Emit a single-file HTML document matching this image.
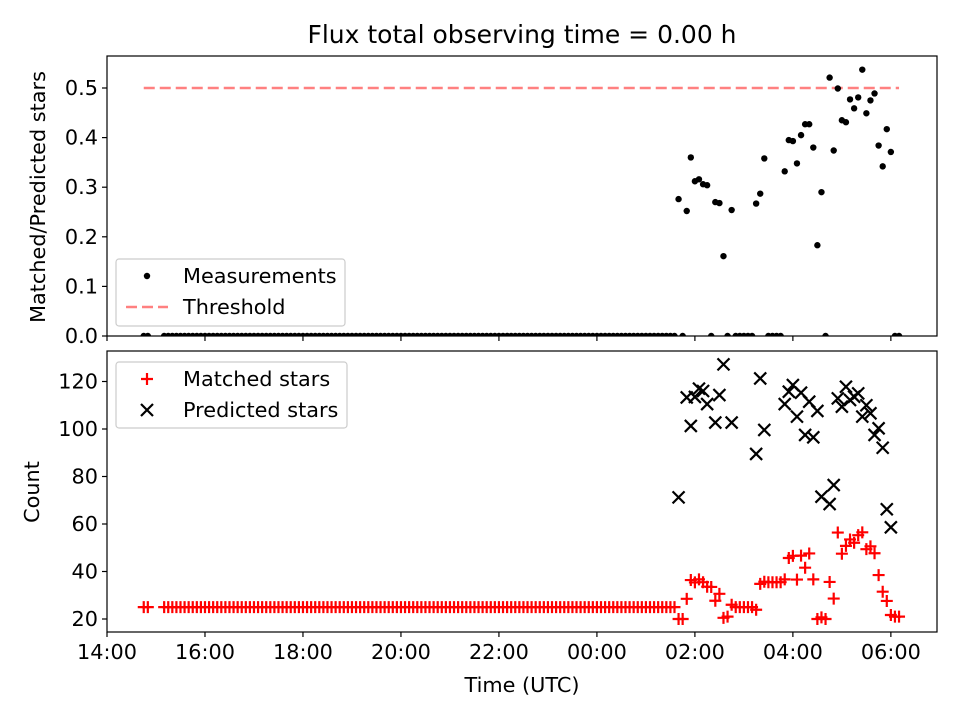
<!DOCTYPE html>
<html><head><meta charset="utf-8"><style>
html,body{margin:0;padding:0;background:#fff;}
svg{display:block;font-family:"DejaVu Sans","Liberation Sans",sans-serif;}
</style></head><body>
<svg id="chart" width="960" height="720" viewBox="0 0 960 720" xmlns="http://www.w3.org/2000/svg">
<defs>
<clipPath id="clipTop"><rect x="107" y="56" width="830" height="280"/></clipPath>
<clipPath id="clipBot"><rect x="107" y="351" width="830" height="281"/></clipPath>
</defs>
<rect width="960" height="720" fill="#fff"/>
<text x="522" y="43" font-size="25" text-anchor="middle">Flux total observing time = 0.00 h</text>
<g id="topPanel"></g>
<g id="botPanel"></g>
<text transform="translate(45,197) rotate(-90)" font-size="20.8" text-anchor="middle">Matched/Predicted stars</text>
<text transform="translate(39,492) rotate(-90)" font-size="20.8" text-anchor="middle">Count</text>
<text x="522" y="692" font-size="20.8" text-anchor="middle">Time (UTC)</text>
</svg>
<script>
// minutes since 14:00
const baseTimes=[45,50,70,75,80,85,90,95,100,105,110,115,120,125,130,135,140,145,150,155,160,165,170,175,180,185,190,195,200,205,210,215,220,225,230,235,240,245,250,255,260,265,270,275,280,285,290,295,300,305,310,315,320,325,330,335,340,345,350,355,360,365,370,375,380,385,390,395,400,405,410,415,420,425,430,435,440,445,450,455,460,465,470,475,480,485,490,495,500,505,510,515,520,525,530,535,540,545,550,555,560,565,570,575,580,585,590,595,600,605,610,615,620,625,630,635,640,645,650,655,660,665,670,675,680,685,690,695];
const baseRatio=[0,0,0,0,0,0,0,0,0,0,0,0,0,0,0,0,0,0,0,0,0,0,0,0,0,0,0,0,0,0,0,0,0,0,0,0,0,0,0,0,0,0,0,0,0,0,0,0,0,0,0,0,0,0,0,0,0,0,0,0,0,0,0,0,0,0,0,0,0,0,0,0,0,0,0,0,0,0,0,0,0,0,0,0,0,0,0,0,0,0,0,0,0,0,0,0,0,0,0,0,0,0,0,0,0,0,0,0,0,0,0,0,0,0,0,0,0,0,0,0,0,0,0,0,0,0,0,0];
const baseMatched=[25,25,25,25,25,25,25,25,25,25,25,25,25,25,25,25,25,25,25,25,25,25,25,25,25,25,25,25,25,25,25,25,25,25,25,25,25,25,25,25,25,25,25,25,25,25,25,25,25,25,25,25,25,25,25,25,25,25,25,25,25,25,25,25,25,25,25,25,25,25,25,25,25,25,25,25,25,25,25,25,25,25,25,25,25,25,25,25,25,25,25,25,25,25,25,25,25,25,25,25,25,25,25,25,25,25,25,25,25,25,25,25,25,25,25,25,25,25,25,25,25,25,25,25,25,25,25,25];
const actTimes=[700,705,710,715,720,725,730,735,740,745,750,755,760,765,770,775,780,785,790,795,800,805,810,815,820,825,830,835,840,845,850,855,860,865,870,875,880,885,890,895,900,905,910,915,920,925,930,935,940,945,950,955,960,965,970];
const actRatio=[0.276,0,0.252,0.36,0.312,0.316,0.306,0.304,0,0.27,0.268,0.161,0,0.254,0,0,0,0,0,0.267,0.287,0.358,0,0,0,0,0.332,0.395,0.393,0.348,0.405,0.427,0.427,0.38,0.183,0.29,0,0.521,0.374,0.499,0.435,0.431,0.477,0.459,0.481,0.537,0.449,0.475,0.489,0.384,0.342,0.417,0.371,0,0];
const actMatched=[20,20,28.5,36.4,35.4,36.7,35.5,33.6,33.5,27.7,30.6,20.5,21,26,25,25,25,25,25,23.9,34.8,35.7,35.5,35.5,35.5,35.5,36.7,45.7,46.6,36.6,46.7,41.6,47.6,36.7,20,20.7,20,35.6,28.6,56.4,47.5,50.8,53.5,52.1,55.3,56.5,49.4,50.6,47.7,38.5,31.5,27.6,21.7,21,21];
const actPredicted=[71.2,null,113.3,101.3,113.5,117,116,110.5,null,102.7,114.3,127.2,null,102.7,null,null,null,null,null,89.5,121.3,99.6,null,null,null,null,110.5,115.7,118.5,105.2,115.3,97.5,111.5,96.5,107.6,71.5,null,68.4,76.4,112.9,109.4,117.8,112.2,113.6,115,105.2,110,106.6,97.5,100.3,92.1,66.2,58.6,null,null];
const threshold=0.5;
const xTickMinutes=[0,120,240,360,480,600,720,840,960];
const xTickLabels=["14:00","16:00","18:00","20:00","22:00","00:00","02:00","04:00","06:00"];
const topTicks=[0,0.1,0.2,0.3,0.4,0.5];
const topTickLabels=["0.0","0.1","0.2","0.3","0.4","0.5"];
const botTicks=[20,40,60,80,100,120];
const botTickLabels=["20","40","60","80","100","120"];

const NS="http://www.w3.org/2000/svg";
const L=107,R=937,TT=56,TB=336,BT=351,BB=632;
function xs(m){return L+m/1016.5*(R-L);}
function yTop(v){return TB-v*496;}
function yBot(c){return 619-(c-20)*2.375;}
function mk(tag,attrs,parent){const e=document.createElementNS(NS,tag);for(const k in attrs)e.setAttribute(k,attrs[k]);parent.appendChild(e);return e;}
const topG=document.getElementById('topPanel'),botG=document.getElementById('botPanel');
const allTimes=baseTimes.concat(actTimes),allRatio=baseRatio.concat(actRatio),allMatched=baseMatched.concat(actMatched);
const allPredicted=baseTimes.map(()=>null).concat(actPredicted);

const tClip=mk('g',{'clip-path':'url(#clipTop)'},topG);
const tmin=Math.min(...allTimes),tmax=Math.max(...allTimes);
const th=mk('line',{x1:xs(tmin),x2:xs(tmax),y1:yTop(threshold),y2:yTop(threshold),stroke:'#ff8080','stroke-width':2.4,'stroke-dasharray':'11 5'},tClip);


for(let i=0;i<allTimes.length;i++){
  const c=mk('circle',{cx:xs(allTimes[i]),cy:yTop(allRatio[i]),r:3.2,fill:'#000'},tClip);
  
  
}
const bClip=mk('g',{'clip-path':'url(#clipBot)'},botG);
for(let i=0;i<allTimes.length;i++){
  const x=xs(allTimes[i]),y=yBot(allMatched[i]);
  const p=mk('path',{d:`M${x-6},${y}H${x+6}M${x},${y-6}V${y+6}`,stroke:'#ff0000','stroke-width':2.2,fill:'none'},bClip);
  
  
}
for(let i=0;i<allTimes.length;i++){
  if(allPredicted[i]===null)continue;
  const x=xs(allTimes[i]),y=yBot(allPredicted[i]);
  const p=mk('path',{d:`M${x-6},${y-6}L${x+6},${y+6}M${x-6},${y+6}L${x+6},${y-6}`,stroke:'#000','stroke-width':2.2,fill:'none'},bClip);
  
  
}
const f1=mk('rect',{x:L,y:TT,width:R-L,height:TB-TT,fill:'none',stroke:'#000','stroke-width':1.2},topG);


const f2=mk('rect',{x:L,y:BT,width:R-L,height:BB-BT,fill:'none',stroke:'#000','stroke-width':1.2},botG);


for(let i=0;i<xTickMinutes.length;i++){
  const x=xs(xTickMinutes[i]);
  mk('line',{x1:x,x2:x,y1:TB,y2:TB+5,stroke:'#000','stroke-width':1.2},topG);
  mk('line',{x1:x,x2:x,y1:BB,y2:BB+5,stroke:'#000','stroke-width':1.2},botG);
  const t=mk('text',{x:x,y:BB+27,'font-size':20.8,'text-anchor':'middle'},botG);
  t.textContent=xTickLabels[i];
  
  
}
for(let i=0;i<topTicks.length;i++){
  const y=yTop(topTicks[i]);
  mk('line',{x1:L-5,x2:L,y1:y,y2:y,stroke:'#000','stroke-width':1.2},topG);
  const t=mk('text',{x:L-9,y:y+7,'font-size':20.8,'text-anchor':'end'},topG);
  t.textContent=topTickLabels[i];
  
  
}
for(let i=0;i<botTicks.length;i++){
  const y=yBot(botTicks[i]);
  mk('line',{x1:L-5,x2:L,y1:y,y2:y,stroke:'#000','stroke-width':1.2},botG);
  const t=mk('text',{x:L-9,y:y+7,'font-size':20.8,'text-anchor':'end'},botG);
  t.textContent=botTickLabels[i];
  
  
}
function legend(parent,x,y,w,h,name,entries){
  const g=mk('g',{},parent);
  
  
  mk('rect',{x:x,y:y,width:w,height:h,rx:3,fill:'#fff','fill-opacity':0.8,stroke:'#ccc','stroke-width':1.2},g);
  entries.forEach((e,i)=>{
    const cy=y+17+i*31, mx=x+31;
    if(e.k==='dot')mk('circle',{cx:mx,cy:cy,r:3.2,fill:'#000'},g);
    if(e.k==='dash')mk('line',{x1:x+10,x2:x+52,y1:cy,y2:cy,stroke:'#ff8080','stroke-width':2.4,'stroke-dasharray':'11 5'},g);
    if(e.k==='plus')mk('path',{d:`M${mx-6},${cy}H${mx+6}M${mx},${cy-6}V${cy+6}`,stroke:'#f00','stroke-width':2.2},g);
    if(e.k==='x')mk('path',{d:`M${mx-6},${cy-6}L${mx+6},${cy+6}M${mx-6},${cy+6}L${mx+6},${cy-6}`,stroke:'#000','stroke-width':2.2},g);
    const t=mk('text',{x:x+67,y:cy+7,'font-size':20.8},g);
    t.textContent=e.t;
    
    
  });
}
legend(topG,116,259,229,67,'ratio-legend',[{k:'dot',t:'Measurements'},{k:'dash',t:'Threshold'}]);
legend(botG,116,362,231,66,'count-legend',[{k:'plus',t:'Matched stars'},{k:'x',t:'Predicted stars'}]);
</script>
</body></html>
